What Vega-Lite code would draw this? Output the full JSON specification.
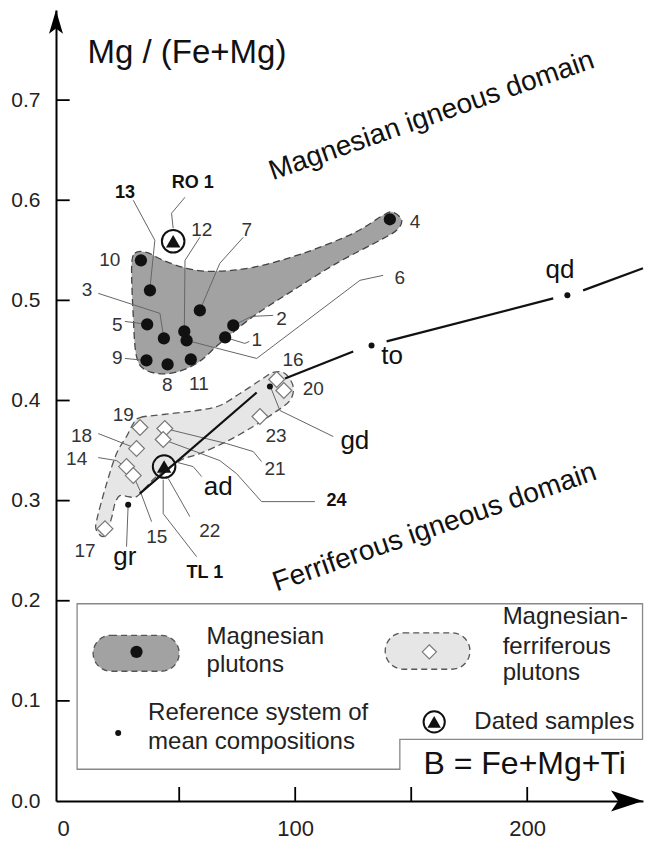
{
  "$schema": "https://vega.github.io/schema/vega-lite/v6.json",
  "width": 587,
  "height": 791,
  "autosize": {"type": "none"},
  "padding": {"left": 56, "top": 10, "right": 3, "bottom": 42},
  "background": "white",
  "config": {
    "view": {"stroke": null},
    "text": {"font": "Liberation Sans", "color": "#222"}
  },
  "datasets": {
    "light": [
      {"i": 0, "x": 30.2, "y": 0.377}, {"i": 1, "x": 33.1, "y": 0.383}, {"i": 2, "x": 43.1, "y": 0.386},
      {"i": 3, "x": 57.5, "y": 0.390}, {"i": 4, "x": 67.5, "y": 0.395}, {"i": 5, "x": 76.2, "y": 0.407},
      {"i": 6, "x": 84.8, "y": 0.420}, {"i": 7, "x": 90.5, "y": 0.428}, {"i": 8, "x": 95.6, "y": 0.427},
      {"i": 9, "x": 99.1, "y": 0.414}, {"i": 10, "x": 97.7, "y": 0.400}, {"i": 11, "x": 90.5, "y": 0.387},
      {"i": 12, "x": 81.9, "y": 0.374}, {"i": 13, "x": 70.4, "y": 0.359}, {"i": 14, "x": 58.9, "y": 0.347},
      {"i": 15, "x": 50.3, "y": 0.340}, {"i": 16, "x": 40.3, "y": 0.324}, {"i": 17, "x": 35.9, "y": 0.314},
      {"i": 18, "x": 31.6, "y": 0.304}, {"i": 19, "x": 27.9, "y": 0.304}, {"i": 20, "x": 24.4, "y": 0.305},
      {"i": 21, "x": 22.3, "y": 0.297}, {"i": 22, "x": 21.0, "y": 0.284}, {"i": 23, "x": 19.3, "y": 0.272},
      {"i": 24, "x": 17.2, "y": 0.264}, {"i": 25, "x": 14.4, "y": 0.270}, {"i": 26, "x": 14.4, "y": 0.280},
      {"i": 27, "x": 18.7, "y": 0.317}, {"i": 28, "x": 23.0, "y": 0.347}, {"i": 29, "x": 27.3, "y": 0.364}
    ],
    "dark": [
      {"i": 0, "x": 29.5, "y": 0.533}, {"i": 1, "x": 30.9, "y": 0.547}, {"i": 2, "x": 35.9, "y": 0.548},
      {"i": 3, "x": 43.1, "y": 0.540}, {"i": 4, "x": 53.2, "y": 0.532}, {"i": 5, "x": 64.7, "y": 0.529},
      {"i": 6, "x": 81.9, "y": 0.533}, {"i": 7, "x": 103.4, "y": 0.547}, {"i": 8, "x": 125.0, "y": 0.567},
      {"i": 9, "x": 137.9, "y": 0.585}, {"i": 10, "x": 142.2, "y": 0.588}, {"i": 11, "x": 145.9, "y": 0.580},
      {"i": 12, "x": 143.7, "y": 0.570}, {"i": 13, "x": 136.5, "y": 0.560}, {"i": 14, "x": 117.8, "y": 0.537},
      {"i": 15, "x": 99.1, "y": 0.510}, {"i": 16, "x": 81.9, "y": 0.484}, {"i": 17, "x": 67.5, "y": 0.457},
      {"i": 18, "x": 57.5, "y": 0.437}, {"i": 19, "x": 46.0, "y": 0.427}, {"i": 20, "x": 35.9, "y": 0.430},
      {"i": 21, "x": 31.6, "y": 0.444}, {"i": 22, "x": 30.2, "y": 0.484}
    ],
    "leaders": [
      {"id": "13", "i": 0, "x": 30.2, "y": 0.600}, {"id": "13", "i": 1, "x": 39.5, "y": 0.560}, {"id": "13", "i": 2, "x": 37.4, "y": 0.512},
      {"id": "RO1", "i": 0, "x": 52.5, "y": 0.603}, {"id": "RO1", "i": 1, "x": 46.7, "y": 0.587}, {"id": "RO1", "i": 2, "x": 47.4, "y": 0.572},
      {"id": "12", "i": 0, "x": 58.9, "y": 0.563}, {"id": "12", "i": 1, "x": 52.5, "y": 0.540}, {"id": "12", "i": 2, "x": 52.2, "y": 0.469},
      {"id": "7", "i": 0, "x": 77.6, "y": 0.563}, {"id": "7", "i": 1, "x": 67.5, "y": 0.537}, {"id": "7", "i": 2, "x": 58.9, "y": 0.490},
      {"id": "3", "i": 0, "x": 15.1, "y": 0.507}, {"id": "3", "i": 1, "x": 41.7, "y": 0.487}, {"id": "3", "i": 2, "x": 43.4, "y": 0.462},
      {"id": "5", "i": 0, "x": 26.6, "y": 0.479}, {"id": "5", "i": 1, "x": 36.2, "y": 0.476},
      {"id": "9", "i": 0, "x": 26.6, "y": 0.442}, {"id": "9", "i": 1, "x": 35.9, "y": 0.440},
      {"id": "2", "i": 0, "x": 73.3, "y": 0.475}, {"id": "2", "i": 1, "x": 81.2, "y": 0.484}, {"id": "2", "i": 2, "x": 90.5, "y": 0.485},
      {"id": "1", "i": 0, "x": 69.8, "y": 0.463}, {"id": "1", "i": 1, "x": 78.3, "y": 0.457}, {"id": "1", "i": 2, "x": 80.2, "y": 0.459},
      {"id": "6", "i": 0, "x": 53.2, "y": 0.460}, {"id": "6", "i": 1, "x": 83.4, "y": 0.442}, {"id": "6", "i": 2, "x": 127.9, "y": 0.520}, {"id": "6", "i": 3, "x": 137.9, "y": 0.525},
      {"id": "14", "i": 0, "x": 15.1, "y": 0.343}, {"id": "14", "i": 1, "x": 23.0, "y": 0.340}, {"id": "14", "i": 2, "x": 27.0, "y": 0.333},
      {"id": "18", "i": 0, "x": 15.1, "y": 0.367}, {"id": "18", "i": 1, "x": 31.6, "y": 0.352},
      {"id": "15", "i": 0, "x": 30.2, "y": 0.325}, {"id": "15", "i": 1, "x": 33.1, "y": 0.310}, {"id": "15", "i": 2, "x": 38.1, "y": 0.279},
      {"id": "gr", "i": 0, "x": 28.0, "y": 0.296}, {"id": "gr", "i": 1, "x": 27.3, "y": 0.254},
      {"id": "TL1", "i": 0, "x": 43.1, "y": 0.321}, {"id": "TL1", "i": 1, "x": 43.1, "y": 0.287}, {"id": "TL1", "i": 2, "x": 57.5, "y": 0.244},
      {"id": "22", "i": 0, "x": 45.3, "y": 0.322}, {"id": "22", "i": 1, "x": 54.6, "y": 0.284},
      {"id": "ad", "i": 0, "x": 49.4, "y": 0.338}, {"id": "ad", "i": 1, "x": 56.0, "y": 0.334}, {"id": "ad", "i": 2, "x": 59.7, "y": 0.324},
      {"id": "21", "i": 0, "x": 43.8, "y": 0.372}, {"id": "21", "i": 1, "x": 70.4, "y": 0.357}, {"id": "21", "i": 2, "x": 81.9, "y": 0.349}, {"id": "21", "i": 3, "x": 85.5, "y": 0.339},
      {"id": "24", "i": 0, "x": 43.1, "y": 0.361}, {"id": "24", "i": 1, "x": 67.5, "y": 0.340}, {"id": "24", "i": 2, "x": 74.7, "y": 0.327}, {"id": "24", "i": 3, "x": 85.5, "y": 0.299}, {"id": "24", "i": 4, "x": 108.5, "y": 0.299},
      {"id": "gd", "i": 0, "x": 89.1, "y": 0.415}, {"id": "gd", "i": 1, "x": 93.4, "y": 0.390}, {"id": "gd", "i": 2, "x": 116.4, "y": 0.364}
    ],
    "segments": [
      {"seg": "a", "i": 0, "x": 33.0, "y": 0.307}, {"seg": "a", "i": 1, "x": 83.4, "y": 0.408},
      {"seg": "b", "i": 0, "x": 95.6, "y": 0.422}, {"seg": "b", "i": 1, "x": 125.0, "y": 0.449},
      {"seg": "c", "i": 0, "x": 139.4, "y": 0.459}, {"seg": "c", "i": 1, "x": 211.2, "y": 0.502},
      {"seg": "d", "i": 0, "x": 224.1, "y": 0.510}, {"seg": "d", "i": 1, "x": 249.9, "y": 0.532}
    ],
    "xticks": [
      {"x": 50, "y": 0, "y2": 0.014}, {"x": 100, "y": 0, "y2": 0.014},
      {"x": 150, "y": 0, "y2": 0.014}, {"x": 200, "y": 0, "y2": 0.014}
    ],
    "yticks": [
      {"x": -3.1, "x2": 2.8, "y": 0.1}, {"x": -3.1, "x2": 2.8, "y": 0.2}, {"x": -3.1, "x2": 2.8, "y": 0.3},
      {"x": -3.1, "x2": 2.8, "y": 0.4}, {"x": -3.1, "x2": 2.8, "y": 0.5}, {"x": -3.1, "x2": 2.8, "y": 0.6},
      {"x": -3.1, "x2": 2.8, "y": 0.7}
    ],
    "magnesian": [
      {"id": 1, "x": 69.8, "y": 0.463}, {"id": 2, "x": 73.3, "y": 0.475}, {"id": 3, "x": 43.4, "y": 0.462},
      {"id": 4, "x": 140.8, "y": 0.581}, {"id": 5, "x": 36.2, "y": 0.476}, {"id": 6, "x": 53.2, "y": 0.460},
      {"id": 7, "x": 58.9, "y": 0.490}, {"id": 8, "x": 45.0, "y": 0.436}, {"id": 9, "x": 35.9, "y": 0.440},
      {"id": 10, "x": 33.5, "y": 0.540}, {"id": 11, "x": 55.0, "y": 0.441}, {"id": 12, "x": 52.2, "y": 0.469},
      {"id": 13, "x": 37.4, "y": 0.510}
    ],
    "ferriferous": [
      {"id": 14, "x": 27.3, "y": 0.334}, {"id": 15, "x": 30.2, "y": 0.325}, {"id": 16, "x": 92.0, "y": 0.421},
      {"id": 17, "x": 18.0, "y": 0.272}, {"id": 18, "x": 31.6, "y": 0.352}, {"id": 19, "x": 33.1, "y": 0.373},
      {"id": 20, "x": 95.1, "y": 0.410}, {"id": 21, "x": 43.8, "y": 0.372}, {"id": 23, "x": 84.8, "y": 0.384},
      {"id": 24, "x": 43.1, "y": 0.361}
    ],
    "reference": [
      {"name": "gr", "x": 28.0, "y": 0.296}, {"name": "gd", "x": 89.1, "y": 0.414},
      {"name": "to", "x": 132.9, "y": 0.455}, {"name": "qd", "x": 217.3, "y": 0.505}
    ],
    "dated": [
      {"name": "RO 1", "x": 47.4, "y": 0.559}, {"name": "TL 1", "x": 43.5, "y": 0.334}
    ],
    "numbers": [
      {"t": "12", "x": 59.7, "y": 0.570}, {"t": "7", "x": 79.1, "y": 0.570}, {"t": "10", "x": 20.1, "y": 0.540},
      {"t": "3", "x": 10.3, "y": 0.510}, {"t": "5", "x": 23.3, "y": 0.475}, {"t": "9", "x": 23.3, "y": 0.442},
      {"t": "8", "x": 44.9, "y": 0.415}, {"t": "11", "x": 58.5, "y": 0.416}, {"t": "2", "x": 94.1, "y": 0.481},
      {"t": "1", "x": 83.4, "y": 0.460}, {"t": "4", "x": 151.6, "y": 0.578}, {"t": "6", "x": 145.1, "y": 0.522},
      {"t": "16", "x": 99.1, "y": 0.440}, {"t": "20", "x": 107.8, "y": 0.411}, {"t": "23", "x": 91.7, "y": 0.365},
      {"t": "21", "x": 91.3, "y": 0.332}, {"t": "22", "x": 63.2, "y": 0.270}, {"t": "15", "x": 40.3, "y": 0.264},
      {"t": "19", "x": 25.9, "y": 0.386}, {"t": "18", "x": 7.9, "y": 0.365}, {"t": "14", "x": 5.8, "y": 0.342},
      {"t": "17", "x": 9.4, "y": 0.250}
    ],
    "bold": [
      {"t": "13", "x": 26.6, "y": 0.607}, {"t": "RO 1", "x": 55.8, "y": 0.617},
      {"t": "24", "x": 117.8, "y": 0.300}, {"t": "TL 1", "x": 61.1, "y": 0.228}
    ],
    "reflabels": [
      {"t": "qd", "x": 214.1, "y": 0.530}, {"t": "to", "x": 141.8, "y": 0.444}, {"t": "gd", "x": 125.7, "y": 0.360},
      {"t": "ad", "x": 66.8, "y": 0.314}, {"t": "gr", "x": 26.6, "y": 0.244}
    ],
    "domains": [
      {"t": "Magnesian igneous domain", "x": 160.0, "y": 0.6765},
      {"t": "Ferriferous igneous domain", "x": 161.3, "y": 0.2654}
    ],
    "legendbox": [
      {"i": 0, "x": 6.0, "y": 0.197}, {"i": 1, "x": 249.7, "y": 0.197}, {"i": 2, "x": 249.7, "y": 0.0616},
      {"i": 3, "x": 145.1, "y": 0.0616}, {"i": 4, "x": 145.1, "y": 0.0317}, {"i": 5, "x": 6.0, "y": 0.0317}
    ],
    "pills": [
      {"kind": "Magnesian plutons", "x": 12.9, "x2": 50.0, "y": 0.1296, "y2": 0.1655},
      {"kind": "Magnesian-ferriferous plutons", "x": 138.8, "x2": 175.3, "y": 0.1316, "y2": 0.168}
    ],
    "legendtext": [
      {"t": "Magnesian", "x": 61.8, "y": 0.157}, {"t": "plutons", "x": 61.8, "y": 0.129},
      {"t": "Magnesian-", "x": 189.4, "y": 0.177}, {"t": "ferriferous", "x": 189.4, "y": 0.147},
      {"t": "plutons", "x": 189.4, "y": 0.1206}, {"t": "Reference system of", "x": 36.6, "y": 0.0806},
      {"t": "mean compositions", "x": 36.6, "y": 0.0523}, {"t": "Dated samples", "x": 177.2, "y": 0.0723}
    ]
  },
  "encoding": {
    "x": {
      "field": "x", "type": "quantitative",
      "scale": {"domain": [-3.1, 249.9], "nice": false, "zero": false},
      "axis": {
        "title": "B = Fe+Mg+Ti",
        "titleFont": "Liberation Sans", "titleFontSize": 32, "titleFontWeight": "normal", "titleColor": "#111",
        "titleAnchor": "start", "titleAlign": "left", "titleBaseline": "alphabetic", "titleX": 367, "titleY": -28,
        "values": [0, 100, 200], "format": "d",
        "labelFlush": false, "labelFont": "Liberation Sans", "labelFontSize": 22, "labelColor": "#222",
        "labelPadding": 17, "labelOverlap": false,
        "grid": false, "domainColor": "#000", "domainWidth": 2, "ticks": false
      }
    },
    "y": {
      "field": "y", "type": "quantitative",
      "scale": {"domain": [0, 0.79], "nice": false, "zero": false},
      "axis": {
        "title": "Mg / (Fe+Mg)",
        "titleFont": "Liberation Sans", "titleFontSize": 33, "titleFontWeight": "normal", "titleColor": "#111",
        "titleAngle": 0, "titleAlign": "left", "titleBaseline": "alphabetic", "titleAnchor": "start", "titleX": 31, "titleY": 52,
        "values": [0, 0.1, 0.2, 0.3, 0.4, 0.5, 0.6, 0.7], "format": ".1f",
        "labelFont": "Liberation Sans", "labelFontSize": 21, "labelColor": "#222",
        "labelPadding": 16, "labelOverlap": false, "labelFlush": false,
        "grid": false, "domainColor": "#000", "domainWidth": 2, "ticks": false
      }
    }
  },
  "layer": [
    {
      "data": {"name": "light"},
      "mark": {"type": "line", "interpolate": "cardinal-closed", "fill": "#e6e6e6", "stroke": "#555", "strokeWidth": 1.3, "strokeDash": [7, 4]},
      "encoding": {"order": {"field": "i", "type": "quantitative"}}
    },
    {
      "data": {"name": "dark"},
      "mark": {"type": "line", "interpolate": "cardinal-closed", "fill": "#a2a2a2", "stroke": "#444", "strokeWidth": 1.3, "strokeDash": [7, 4]},
      "encoding": {"order": {"field": "i", "type": "quantitative"}}
    },
    {
      "data": {"name": "xticks"},
      "mark": {"type": "rule", "color": "#000", "strokeWidth": 1.8, "opacity": 1},
      "encoding": {"y2": {"field": "y2"}}
    },
    {
      "data": {"name": "yticks"},
      "mark": {"type": "rule", "color": "#000", "strokeWidth": 1.8, "opacity": 1},
      "encoding": {"x2": {"field": "x2"}}
    },
    {
      "data": {"name": "leaders"},
      "mark": {"type": "line", "stroke": "#666", "strokeWidth": 1},
      "encoding": {"detail": {"field": "id", "type": "nominal"}, "order": {"field": "i", "type": "quantitative"}}
    },
    {
      "data": {"name": "segments"},
      "mark": {"type": "line", "stroke": "#111", "strokeWidth": 2.2},
      "encoding": {"detail": {"field": "seg", "type": "nominal"}, "order": {"field": "i", "type": "quantitative"}}
    },
    {
      "data": {"name": "ferriferous"},
      "mark": {"type": "point", "shape": "diamond", "filled": true, "fill": "white", "stroke": "#777", "strokeWidth": 1.2, "size": 250, "opacity": 1}
    },
    {
      "data": {"name": "magnesian"},
      "mark": {"type": "point", "shape": "circle", "filled": true, "color": "#111", "size": 150, "opacity": 1}
    },
    {
      "data": {"name": "reference"},
      "mark": {"type": "point", "shape": "circle", "filled": true, "color": "#111", "size": 36, "opacity": 1}
    },
    {
      "data": {"name": "dated"},
      "mark": {"type": "point", "shape": "circle", "filled": false, "stroke": "#111", "strokeWidth": 2, "size": 510, "opacity": 1}
    },
    {
      "data": {"name": "dated"},
      "mark": {"type": "point", "shape": "triangle-up", "filled": true, "color": "#111", "size": 210, "opacity": 1}
    },
    {
      "data": {"name": "numbers"},
      "mark": {"type": "text", "fontSize": 19, "color": "#333", "align": "center", "baseline": "middle"},
      "encoding": {"text": {"field": "t"}}
    },
    {
      "data": {"name": "bold"},
      "mark": {"type": "text", "fontSize": 18, "fontWeight": "bold", "color": "#111", "align": "center", "baseline": "middle"},
      "encoding": {"text": {"field": "t"}}
    },
    {
      "data": {"name": "reflabels"},
      "mark": {"type": "text", "fontSize": 26, "color": "#111", "align": "center", "baseline": "middle"},
      "encoding": {"text": {"field": "t"}}
    },
    {
      "data": {"name": "domains"},
      "mark": {"type": "text", "fontSize": 28, "color": "#111", "align": "center", "baseline": "alphabetic", "angle": -19.3},
      "encoding": {"text": {"field": "t"}}
    },
    {
      "data": {"name": "legendbox"},
      "mark": {"type": "line", "interpolate": "linear-closed", "stroke": "#888", "strokeWidth": 1.3},
      "encoding": {"order": {"field": "i", "type": "quantitative"}}
    },
    {
      "data": {"name": "pills"},
      "mark": {"type": "rect", "cornerRadius": 18, "strokeDash": [6, 4], "strokeWidth": 1.3, "stroke": "#555", "opacity": 1},
      "encoding": {
        "x2": {"field": "x2"}, "y2": {"field": "y2"},
        "fill": {"field": "kind", "type": "nominal", "scale": {"domain": ["Magnesian plutons", "Magnesian-ferriferous plutons"], "range": ["#a2a2a2", "#e6e6e6"]}, "legend": null}
      }
    },
    {
      "data": {"values": [{"x": 31.6, "y": 0.149}]},
      "mark": {"type": "point", "shape": "circle", "filled": true, "color": "#111", "size": 150, "opacity": 1}
    },
    {
      "data": {"values": [{"x": 157.8, "y": 0.149}]},
      "mark": {"type": "point", "shape": "diamond", "filled": true, "fill": "white", "stroke": "#777", "strokeWidth": 1.2, "size": 200, "opacity": 1}
    },
    {
      "data": {"values": [{"x": 23.7, "y": 0.068}]},
      "mark": {"type": "point", "shape": "circle", "filled": true, "color": "#111", "size": 36, "opacity": 1}
    },
    {
      "data": {"values": [{"x": 159.9, "y": 0.079}]},
      "mark": {"type": "point", "shape": "circle", "filled": false, "stroke": "#111", "strokeWidth": 2, "size": 450, "opacity": 1}
    },
    {
      "data": {"values": [{"x": 159.9, "y": 0.079}]},
      "mark": {"type": "point", "shape": "triangle-up", "filled": true, "color": "#111", "size": 180, "opacity": 1}
    },
    {
      "data": {"name": "legendtext"},
      "mark": {"type": "text", "fontSize": 24, "color": "#222", "align": "left", "baseline": "alphabetic"},
      "encoding": {"text": {"field": "t"}}
    },
    {
      "data": {"values": [{"x": 243.0, "y": 0}]},
      "mark": {"type": "point", "shape": "M1,0L-1,-0.656L-0.55,0L-1,0.656Z", "filled": true, "color": "#000", "size": 1024, "opacity": 1}
    },
    {
      "data": {"values": [{"x": -3.1, "y": 0.778}]},
      "mark": {"type": "point", "shape": "M0,-1L0.6,1L0,0.55L-0.6,1Z", "filled": true, "color": "#000", "size": 543, "opacity": 1}
    }
  ]
}
